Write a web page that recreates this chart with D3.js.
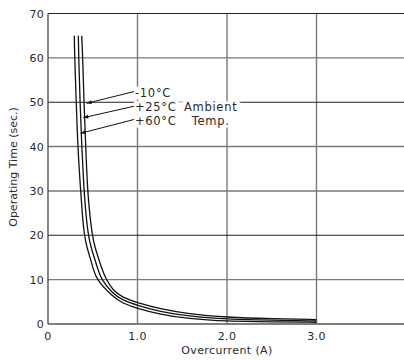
<!DOCTYPE html>
<html><head><meta charset="utf-8">
<script src="https://cdn.jsdelivr.net/npm/d3@7"></script>
<style>
html,body{margin:0;padding:0;background:#fff;}
svg{display:block;}
text{font-family:"DejaVu Sans",Verdana,sans-serif;fill:#2a2a2a;}
</style></head>
<body>
<svg id="c" width="404" height="361"></svg>
<script>
// ---- data ----
const xTicks = [0, 1.0, 2.0, 3.0];
const xTickLabels = ["0", "1.0", "2.0", "3.0"];
const yTicks = [0, 10, 20, 30, 40, 50, 60, 70];
const darkRows = [20, 50, 70];
const seriesNames = ["-10°C", "+25°C", "+60°C"];
const currentM10 = [0.377, 0.388, 0.402, 0.421, 0.442, 0.468, 0.495, 0.525, 0.562, 0.60, 0.65, 0.726, 0.83, 1.0, 1.25, 1.56, 2.0, 2.5, 3.0];
const timeM10    = [65, 60, 50, 40, 30, 24.5, 20, 17.2, 15, 12.5, 10, 7.6, 6.0, 4.8, 3.4, 2.3, 1.5, 1.2, 1.0];
const currentP25 = [0.339, 0.343, 0.358, 0.377, 0.402, 0.425, 0.450, 0.482, 0.517, 0.555, 0.595, 0.726, 0.83, 1.0, 1.25, 1.56, 2.0, 2.5, 3.0];
const timeP25    = [65, 60, 50, 40, 30, 24.5, 20, 17.2, 15, 12.5, 10, 6.8, 5.4, 4.2, 2.8, 1.8, 1.1, 0.85, 0.7];
const currentP60 = [0.294, 0.298, 0.316, 0.332, 0.365, 0.384, 0.406, 0.436, 0.469, 0.505, 0.54, 0.726, 0.83, 1.0, 1.25, 1.56, 2.0, 2.5, 3.0];
const timeP60    = [65, 60, 50, 40, 30, 24.5, 20, 17.2, 15, 12.5, 10, 6.1, 4.7, 3.5, 2.2, 1.2, 0.6, 0.5, 0.4];
// annotation anchors in data units: arrow tip and label start
const tipX = [0.432, 0.394, 0.365];
const tipY = [49.75, 46.5, 43.0];
const labX = [0.961, 0.961, 0.961];
const labY = [52.4, 49.1, 46.1];
const ambientLines = ["Ambient", "Temp."];
const xTitle = "Overcurrent (A)";
const yTitle = "Operating Time (sec.)";

// ---- layout ----
const svg = d3.select("#c");
const x = d3.scaleLinear().domain([0, 4]).range([48, 406]);
const y = d3.scaleLinear().domain([0, 70]).range([324, 13.5]);
const fs = 11;
const fa = 11.5;

// grid
const g = svg.append("g");
g.selectAll("line.v").data(xTicks.slice(1)).join("line")
  .attr("x1", d => x(d)).attr("x2", d => x(d))
  .attr("y1", y(70)).attr("y2", y(0))
  .attr("stroke", "#7a7a7a").attr("stroke-width", 1.4);
g.selectAll("line.h").data(yTicks.slice(1)).join("line")
  .attr("x1", x(0)).attr("x2", 404)
  .attr("y1", d => y(d)).attr("y2", d => y(d))
  .attr("stroke", d => darkRows.includes(d) ? "#222" : "#7a7a7a")
  .attr("stroke-width", d => darkRows.includes(d) ? 1.1 : 1.4);
g.append("line").attr("x1", x(0)).attr("x2", x(0)).attr("y1", y(70)).attr("y2", y(0))
  .attr("stroke", "#444").attr("stroke-width", 1.3);
g.append("line").attr("x1", x(0)).attr("x2", 404).attr("y1", y(0)).attr("y2", y(0))
  .attr("stroke", "#555").attr("stroke-width", 1.4);

// tick labels
svg.append("g").selectAll("text").data(yTicks).join("text")
  .attr("x", x(0) - 4).attr("y", d => y(d) + 4)
  .attr("text-anchor", "end").attr("font-size", fs).attr("letter-spacing", 0.3).text(d => d);
svg.append("g").selectAll("text").data(xTicks).join("text")
  .attr("x", d => x(d)).attr("y", y(0) + 16)
  .attr("text-anchor", "middle").attr("font-size", fs).attr("letter-spacing", 0.3).text((d, i) => xTickLabels[i]);
svg.append("text").attr("x", x(2.0)).attr("y", 354).attr("text-anchor", "middle")
  .attr("font-size", fs).attr("letter-spacing", 0.4).text(xTitle);
svg.append("text").attr("transform", `translate(17,${167}) rotate(-90)`)
  .attr("text-anchor", "middle").attr("font-size", fs).text(yTitle);

// curves
const series = [
  currentM10.map((c, i) => [c, timeM10[i]]),
  currentP25.map((c, i) => [c, timeP25[i]]),
  currentP60.map((c, i) => [c, timeP60[i]])
];
const line = d3.line().x(d => x(d[0])).y(d => y(d[1])).curve(d3.curveBasis);
svg.append("g").selectAll("path").data(series).join("path")
  .attr("d", line).attr("fill", "none").attr("stroke", "#111").attr("stroke-width", 1.3);

// annotation labels with white backgrounds
const ann = svg.append("g");
const bgG = ann.append("g");
const labels = seriesNames.map((s, i) => ann.append("text")
  .attr("x", x(labX[i]) + 1).attr("y", y(labY[i]) + 5)
  .attr("font-size", fa).attr("letter-spacing", 0.7).text(s));
const amb1 = ann.append("text").attr("x", 184).attr("y", y(labY[1]) + 5)
  .attr("font-size", fa).attr("letter-spacing", 0.7).text(ambientLines[0]);
const ambBox = amb1.node().getBBox();
const amb2 = ann.append("text").attr("x", ambBox.x + ambBox.width / 2).attr("y", y(labY[2]) + 5)
  .attr("text-anchor", "middle").attr("font-size", fa).attr("letter-spacing", 0.7).text(ambientLines[1]);
labels.concat([amb1, amb2]).forEach(t => {
  const b = t.node().getBBox();
  bgG.append("rect").attr("x", b.x - 1).attr("y", b.y + 1).attr("width", b.width + 3).attr("height", b.height - 1)
    .attr("fill", "#fff");
});
const b25 = labels[1].node().getBBox();
const bT = amb2.node().getBBox();
bgG.append("rect").attr("x", b25.x + b25.width).attr("y", b25.y + 2)
  .attr("width", ambBox.x + ambBox.width + 3 - (b25.x + b25.width))
  .attr("height", bT.y + bT.height - b25.y - 3).attr("fill", "#fff");

// leader lines with arrows
svg.append("defs").append("marker").attr("id", "ah").attr("viewBox", "0 0 10 10")
  .attr("refX", 10).attr("refY", 5).attr("markerWidth", 6).attr("markerHeight", 5)
  .attr("markerUnits", "userSpaceOnUse").attr("orient", "auto")
  .append("path").attr("d", "M0,1 L10,5 L0,9 Z").attr("fill", "#111");
ann.selectAll("line.lead").data(seriesNames).join("line")
  .attr("x1", (d, i) => x(labX[i])).attr("y1", (d, i) => y(labY[i]))
  .attr("x2", (d, i) => x(tipX[i])).attr("y2", (d, i) => y(tipY[i]))
  .attr("stroke", "#111").attr("stroke-width", 1).attr("marker-end", "url(#ah)");
</script>
</body></html>
